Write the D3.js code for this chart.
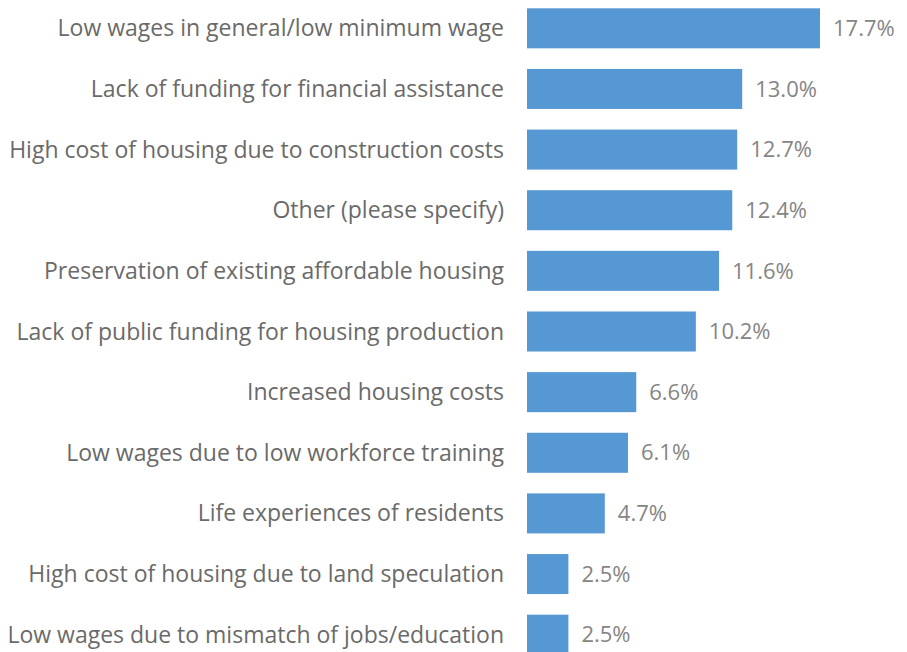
<!DOCTYPE html>
<html>
<head>
<meta charset="utf-8">
<script src="https://cdn.jsdelivr.net/npm/d3@7"></script>
<style>
  body { margin: 0; background: #fff; }
  svg { display: block; }
</style>
</head>
<body>
<div id="chart"></div>
<script>
var categories = [
  "Low wages in general/low minimum wage",
  "Lack of funding for financial assistance",
  "High cost of housing due to construction costs",
  "Other (please specify)",
  "Preservation of existing affordable housing",
  "Lack of public funding for housing production",
  "Increased housing costs",
  "Low wages due to low workforce training",
  "Life experiences of residents",
  "High cost of housing due to land speculation",
  "Low wages due to mismatch of jobs/education"
];
var values = [17.7, 13.0, 12.7, 12.4, 11.6, 10.2, 6.6, 6.1, 4.7, 2.5, 2.5];

var width = 907, height = 652;
var barLeft = 527, labelRight = 504;

var svg = d3.select("#chart")
  .append("svg")
    .attr("width", width)
    .attr("height", height);

var x = d3.scaleLinear()
  .domain([0, 17.7])
  .range([barLeft, 820]);

var y = d3.scaleBand()
  .domain(categories)
  .range([-2, 665])
  .paddingInner(0.34)
  .paddingOuter(0.17);

var rows = svg.selectAll("g.row")
  .data(categories)
  .enter()
  .append("g")
    .attr("class", "row");

rows.append("rect")
  .attr("x", x(0))
  .attr("y", function(d) { return y(d); })
  .attr("width", function(d, i) { return x(values[i]) - x(0); })
  .attr("height", y.bandwidth())
  .style("fill", "#5598d3");

rows.append("text")
  .attr("x", labelRight)
  .attr("y", function(d) { return y(d) + y.bandwidth() / 2; })
  .attr("dy", "0.35em")
  .attr("text-anchor", "end")
  .style("font-family", "'Open Sans', sans-serif")
  .style("font-size", "23px")
  .style("fill", "#6a6a6a")
  .text(function(d) { return d; });

rows.append("text")
  .attr("x", function(d, i) { return x(values[i]) + 13; })
  .attr("y", function(d) { return y(d) + y.bandwidth() / 2; })
  .attr("dy", "0.35em")
  .style("font-family", "'Open Sans', sans-serif")
  .style("font-size", "22px")
  .style("fill", "#858585")
  .text(function(d, i) { return values[i].toFixed(1) + "%"; });
</script>
</body>
</html>
